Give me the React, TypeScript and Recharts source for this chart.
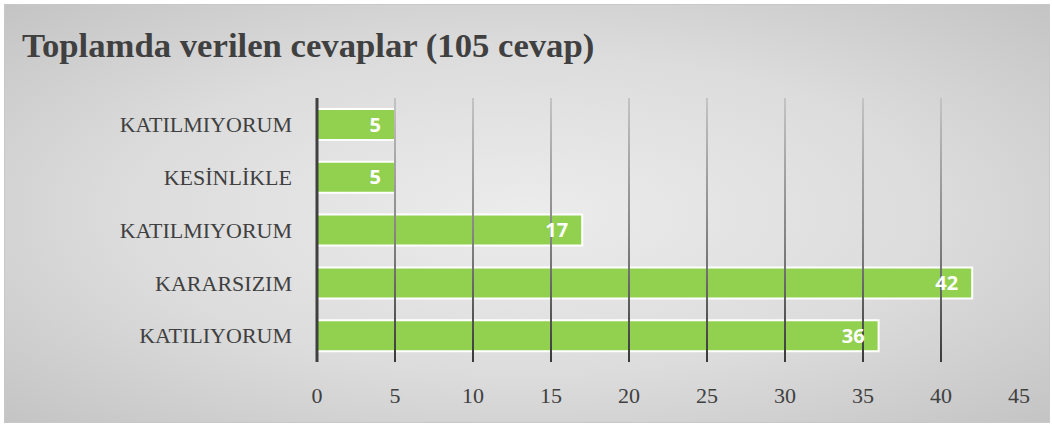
import React from "react";
import {
  BarChart,
  Bar,
  XAxis,
  YAxis,
  LabelList,
  ReferenceLine,
} from "recharts";

const CATEGORIES = [
  "KATILMIYORUM",
  "KESİNLİKLE",
  "KATILMIYORUM ",
  "KARARSIZIM",
  "KATILIYORUM",
];
const ANSWERS = [5, 5, 17, 42, 36];
const TICKS = [0, 5, 10, 15, 20, 25, 30, 35, 40, 45];
const TITLE = "Toplamda verilen cevaplar (105 cevap)";

const chartData = CATEGORIES.map((name, i) => ({ name, value: ANSWERS[i] }));
const gridValues = TICKS.slice(1, -1);

export default function App() {
  return (
    <div
      style={{
        position: "fixed",
        left: 0,
        top: 0,
        width: 1052,
        height: 425,
        background: "#ffffff",
      }}
    >
      <div
        style={{
          position: "absolute",
          left: 4,
          top: 4,
          width: 1044,
          height: 417,
          border: "1px solid #c8c8c8",
          background:
            "radial-gradient(ellipse at 50% 50%, #ececec 0%, #dcdcdc 55%, #c4c4c4 100%)",
        }}
      />
      <div
        style={{
          position: "absolute",
          left: 22,
          top: 27,
          fontFamily: "'Liberation Serif', serif",
          fontWeight: 700,
          fontSize: 34.7,
          color: "#404040",
          whiteSpace: "nowrap",
          lineHeight: "38px",
        }}
      >
        {TITLE}
      </div>
      <div style={{ position: "absolute", left: 0, top: 0 }}>
        <BarChart
          width={1052}
          height={425}
          data={chartData}
          layout="vertical"
          margin={{ top: 98, right: 33, bottom: 0, left: 0 }}
        >
          <defs>
            <linearGradient
              id="gridGrad"
              gradientUnits="userSpaceOnUse"
              x1="0"
              y1="98"
              x2="0"
              y2="362"
            >
              <stop offset="0%" stopColor="#c4c4c4" />
              <stop offset="60%" stopColor="#7a7a7a" />
              <stop offset="100%" stopColor="#3a3a3a" />
            </linearGradient>
          </defs>
          {gridValues.map((v) => (
            <ReferenceLine
              key={v}
              x={v}
              stroke="url(#gridGrad)"
              strokeWidth={2}
            />
          ))}
          <XAxis
            type="number"
            domain={[0, 45]}
            ticks={TICKS}
            height={63}
            axisLine={false}
            tickLine={false}
            tickMargin={19}
            interval={0}
            tick={{
              fill: "#404040",
              fontSize: 22,
              fontFamily: "'Liberation Serif', serif",
            }}
          />
          <YAxis
            type="category"
            dataKey="name"
            width={317}
            axisLine={{ stroke: "#404040", strokeWidth: 3 }}
            tickLine={false}
            tickMargin={19}
            tick={{
              fill: "#404040",
              fontSize: 22,
              fontFamily: "'Liberation Serif', serif",
            }}
          />
          <Bar
            dataKey="value"
            fill="#92d050"
            stroke="#ffffff"
            strokeWidth={2}
            barSize={31}
            isAnimationActive={false}
          >
            <LabelList
              dataKey="value"
              position="insideRight"
              offset={14}
              fill="#ffffff"
              style={{
                fontFamily: "'Open Sans', sans-serif",
                fontWeight: 700,
                fontSize: 20,
              }}
            />
          </Bar>
        </BarChart>
      </div>
    </div>
  );
}
